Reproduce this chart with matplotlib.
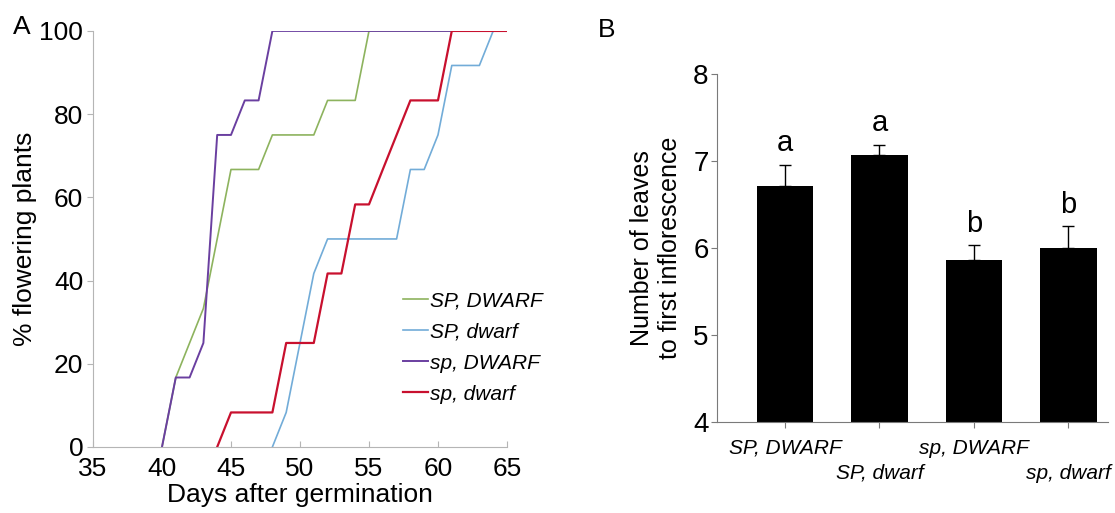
import matplotlib
matplotlib.use("Agg")
import matplotlib.pyplot as plt

plt.rcParams['font.family'] = ['Liberation Sans', 'DejaVu Sans']

# panel A: cumulative % of flowering plants (n = 12 per genotype)
days_sp_D = [40, 41, 42, 43, 44, 45, 46, 47, 48, 65]
pct_sp_D = [0, 16.7, 16.7, 25, 75, 75, 83.3, 83.3, 100, 100]

days_SP_D = [40, 41, 42, 43, 44, 45, 47, 48, 51, 52, 54, 55, 65]
pct_SP_D = [0, 16.7, 25, 33.3, 50, 66.7, 66.7, 75, 75, 83.3, 83.3, 100, 100]

days_sp_d = [44, 45, 48, 49, 51, 52, 53, 54, 55, 56, 57, 58, 60, 61, 65]
pct_sp_d = [0, 8.3, 8.3, 25, 25, 41.7, 41.7, 58.3, 58.3, 66.7, 75, 83.3, 83.3, 100, 100]

days_SP_d = [48, 49, 50, 51, 52, 57, 58, 59, 60, 61, 63, 64, 65]
pct_SP_d = [0, 8.3, 25, 41.7, 50, 50, 66.7, 66.7, 75, 91.7, 91.7, 100, 100]

# panel B: leaves to first inflorescence
genotypes = ["SP, DWARF", "SP, dwarf", "sp, DWARF", "sp, dwarf"]
leaves = [6.71, 7.07, 5.86, 6.00]
leaves_err = [0.25, 0.12, 0.17, 0.25]
letters = ["a", "a", "b", "b"]

fig = plt.figure(figsize=(11.15, 5.13), dpi=100)

# ---------------- panel A
ax = fig.add_axes([0.0834, 0.1287, 0.3713, 0.811])
ax.plot(days_SP_D, pct_SP_D, color='#8db35e', lw=1.2, label='SP, DWARF')
ax.plot(days_SP_d, pct_SP_d, color='#72acd8', lw=1.2, label='SP, dwarf')
ax.plot(days_sp_D, pct_sp_D, color='#6a3fa0', lw=1.4, label='sp, DWARF')
ax.plot(days_sp_d, pct_sp_d, color='#c8102e', lw=1.6, label='sp, dwarf')
ax.set_xlim(35, 65)
ax.set_ylim(0, 100)
ax.set_xticks([35, 40, 45, 50, 55, 60, 65])
ax.set_yticks([0, 20, 40, 60, 80, 100])
for s in ['top', 'right']:
    ax.spines[s].set_visible(False)
for s in ['left', 'bottom']:
    ax.spines[s].set_color('#b5b5b5')
ax.tick_params(axis='y', direction='out', length=4, color='#b5b5b5', labelsize=19, pad=3)
ax.tick_params(axis='x', direction='in', length=4, color='#b5b5b5', labelsize=19, pad=7)
ax.set_xlabel("Days after germination", fontsize=19, labelpad=2)
ax.set_ylabel("% flowering plants", fontsize=19, labelpad=2)
leg = ax.legend(loc='upper left', bbox_to_anchor=(0.352, 0.452), bbox_transform=fig.transFigure,
                frameon=False, prop={'style': 'italic', 'size': 15}, handlelength=1.2,
                handletextpad=0.1, labelspacing=0.58, borderpad=0)
fig.text(0.012, 0.97, "A", fontsize=19, va='top')

# ---------------- panel B
bx = fig.add_axes([0.643, 0.1774, 0.3507, 0.678])
x = range(len(genotypes))
bx.bar(x, leaves, width=0.6, bottom=0, color='black')
bx.errorbar(x, leaves, yerr=[[0] * 4, leaves_err], fmt='none', ecolor='black',
            elinewidth=1, capsize=4, capthick=1)
for i in x:
    bx.text(i, leaves[i] + leaves_err[i] + 0.09, letters[i], ha='center', va='bottom', fontsize=21)
bx.set_xlim(-0.72, 3.42)
bx.set_ylim(4, 8)
bx.set_yticks([4, 5, 6, 7, 8])
bx.set_xticks(list(x))
bx.set_xticklabels(genotypes, style='italic', fontsize=15)
for i, t in enumerate(bx.xaxis.get_major_ticks()):
    t.set_pad(8 if i % 2 == 0 else 26)
for s in ['top', 'right']:
    bx.spines[s].set_visible(False)
for s in ['left', 'bottom']:
    bx.spines[s].set_color('#7a7a7a')
bx.tick_params(axis='both', direction='out', length=4, color='#7a7a7a')
bx.tick_params(axis='y', labelsize=20, pad=2)
bx.set_ylabel("Number of leaves\nto first inflorescence", fontsize=18, labelpad=8,
              linespacing=1.2)
fig.text(0.536, 0.965, "B", fontsize=19, va='top')

fig.savefig("out.png", dpi=100)
